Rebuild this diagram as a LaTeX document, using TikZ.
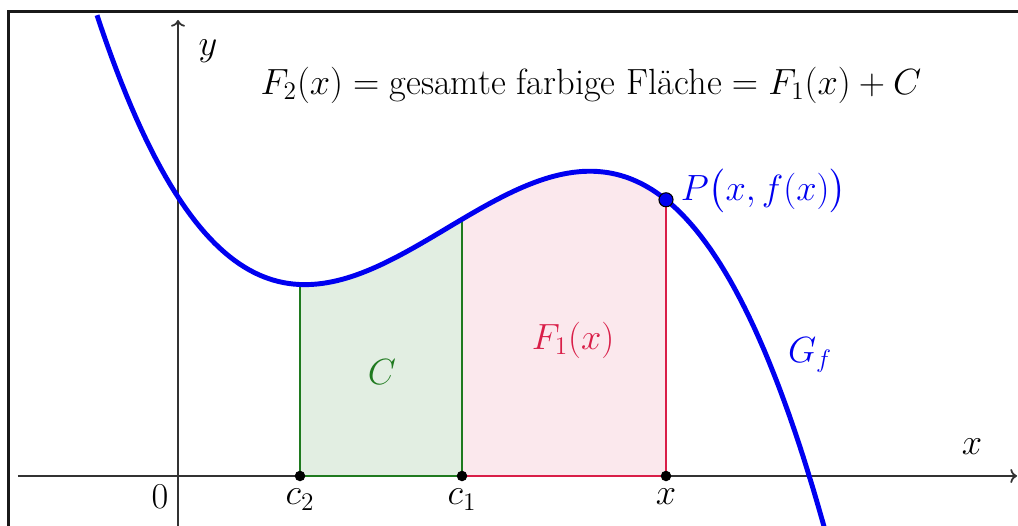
\documentclass[tikz,border=0pt]{standalone}
\usepackage{fontspec}
\usepackage{amsmath,amssymb}
\usepackage{tikz}
\usepackage{xcolor}
\usetikzlibrary{arrows.meta,positioning,calc}
\definecolor{cG}{HTML}{0000F0}
\definecolor{cC}{HTML}{1F7A1F}
\definecolor{cF}{HTML}{D91E48}
\definecolor{cInk}{HTML}{333333}
\tikzset{
  ax/.style ={->,line width=1pt,cInk},
  graph/.style={line width=2.8pt,cG},
  cfill/.style={fill=cC!13,draw=cC,line width=1pt},
  ffill/.style={fill=cF!10,draw=cF,line width=1pt},
  lbl/.style={font=\huge,inner sep=1pt},
  dot/.style={circle,fill=black,inner sep=0pt,minimum size=6pt},
  frame/.style={line width=1.7pt,black!90},
  declare function={f(\x)=-0.0245*\x*\x*\x+0.3962*\x*\x-1.5383*\x+5.58;},
}
\newcommand{\cA}{2.44}
\newcommand{\cB}{5.68}
\newcommand{\xP}{9.76}

\begin{document}
\begin{tikzpicture}
\useasboundingbox (-3.56,-1.0) rectangle (16.8,9.52);
\draw[frame] (-3.39,-1.05) -- (-3.39,9.29) -- (16.85,9.29);
\coordinate (xl) at (-3.2,0);
\coordinate (xr) at (16.78,0);
\coordinate (yb) at (0,-1.05);
\coordinate (yt) at (0,9.12);
\draw[ax] (xl) -- (xr);
\draw[ax] (yb) -- (yt);
\filldraw[ffill] (\cB,0) -- plot[domain=\cB:\xP,samples=40] (\x,{f(\x)}) -- (\xP,0) -- cycle;
\filldraw[cfill] (\cA,0) -- plot[domain=\cA:\cB,samples=40] (\x,{f(\x)}) -- (\cB,0) -- cycle;
\draw[graph] plot[domain=-1.62:13.0,samples=150] (\x,{f(\x)});
\node[dot,label={[lbl,label distance=3pt]below:$c_2$}] (c2) at (\cA,0) {};
\node[dot,label={[lbl,label distance=3pt]below:$c_1$}] (c1) at (\cB,0) {};
\node[dot,label={[lbl,label distance=3pt]below:$x$}] (xa) at (\xP,0) {};
\node[dot,fill=cG,draw=black,line width=0.6pt,minimum size=8pt] (p) at (\xP,{f(\xP)}) {};
\node[lbl,text=cG,right=3pt of p,yshift=5pt] (pl) {$P\bigl(x,f(x)\bigr)$};
\node[lbl] (nul) at (-0.36,-0.42) {$0$};
\node[lbl] (xn) at (15.88,0.58) {$x$};
\node[lbl] (yn) at (0.6,8.5) {$y$};
\node[lbl,text=cG] (gf) at (12.64,2.42) {$G_f$};
\node[lbl,text=cC] (cn) at (4.08,2.08) {$C$};
\node[lbl,text=cF] (fn) at (7.9,2.72) {$F_1(x)$};
\node[lbl] (head) at (8.26,7.82) {$F_2(x)=\text{gesamte farbige Fläche}=F_1(x)+C$};
\end{tikzpicture}
\end{document}
